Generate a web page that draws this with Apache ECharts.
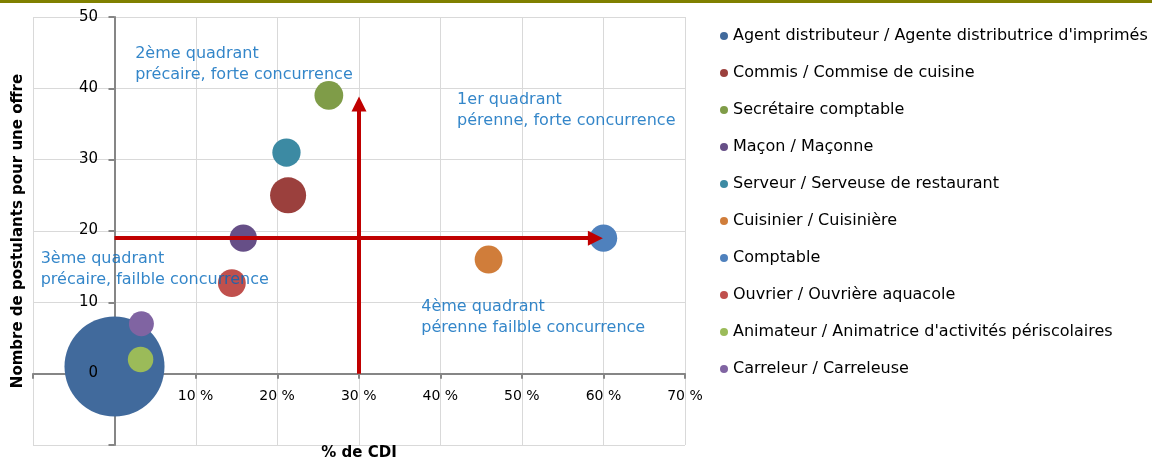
<!DOCTYPE html>
<html>
<head>
<meta charset="utf-8">
<script src="https://cdn.jsdelivr.net/npm/echarts@6/dist/echarts.min.js"></script>
<style>
  html, body { margin: 0; padding: 0; background: #fff; }
  #chart { width: 1152px; height: 457px; }
</style>
</head>
<body>
<div id="chart"></div>
<script>
// métiers (ordre de la légende)
const jobs = [
  "Agent distributeur / Agente distributrice d'imprimés",
  'Commis / Commise de cuisine',
  'Secrétaire comptable',
  'Maçon / Maçonne',
  'Serveur / Serveuse de restaurant',
  'Cuisinier / Cuisinière',
  'Comptable',
  'Ouvrier / Ouvrière aquacole',
  "Animateur / Animatrice d'activités périscolaires",
  'Carreleur / Carreleuse'
]
// % de CDI
const cdi = [0, 21.3, 26.3, 15.8, 21.1, 45.9, 60, 14.4, 3.2, 3.3]
// nombre de postulants pour une offre
const postulants = [1, 25, 39, 19, 31, 16, 19, 12.7, 2, 7]
// taille des bulles (nombre d'offres)
const offres = [400, 52, 33, 30, 32, 31, 30, 31, 26, 25]
const colors = ['#416a9c', '#9b403d', '#7f9c48', '#664f87', '#3c8aa3',
  '#d07d3a', '#4f81bd', '#c0504d', '#9bbb59', '#8064a2']

// flèches (séparation des quadrants)
const arrowH = [[0, 19], [59, 19]]
const arrowV = [[30, 0], [30, 37.8]]

// textes des quadrants
const quadrants = [
  [2.6, 43.3, '2ème quadrant\nprécaire, forte concurrence'],
  [42.1, 36.9, '1er quadrant\npérenne, forte concurrence'],
  [-9, 14.5, '3ème quadrant\nprécaire, failble concurrence'],
  [37.7, 7.8, '4ème quadrant\npérenne failble concurrence']
]

// graduations
const xTicks = { min: -10, max: 70, interval: 10 }
const yTicks = { min: -10, max: 50, interval: 10 }

const font = 'DejaVu Sans'
const dom = document.querySelector('#chart')
const myChart = echarts.init(dom)

const bubbleSeries = jobs.map((name, i) => {
  return {
    name: name,
    type: 'scatter',
    z: 3,
    data: [[cdi[i], postulants[i], offres[i]]],
    symbolSize: v => 5 * Math.sqrt(v[2]),
    itemStyle: { color: colors[i], opacity: 1 }
  }
})

const option = {
  animation: false,
  textStyle: { fontFamily: font },
  // bandeau olive en haut
  graphic: [{
    type: 'rect',
    left: 0,
    top: 0,
    shape: { width: 1152, height: 3 },
    style: { fill: '#808000' }
  }],
  grid: [
    // zone complète (-10..70 / -10..50)
    { left: 33, top: 17, right: 467, bottom: 12, outerBoundsMode: 'none' },
    // quadrant positif, seulement pour les étiquettes des axes
    { left: 114, top: 17, right: 467, bottom: 84, outerBoundsMode: 'none' }
  ],
  legend: {
    orient: 'vertical',
    left: 715,
    top: 23,
    icon: 'circle',
    itemWidth: 8,
    itemHeight: 8,
    itemGap: 21,
    data: jobs,
    textStyle: { fontFamily: font, fontSize: 16, color: '#000', lineHeight: 16 }
  },
  xAxis: [
    {
      type: 'value',
      gridIndex: 0,
      min: xTicks.min,
      max: xTicks.max,
      interval: xTicks.interval,
      name: '% de CDI',
      nameLocation: 'middle',
      nameGap: 1,
      nameTextStyle: { fontFamily: font, fontSize: 15, fontWeight: 'bold', color: '#000' },
      axisLine: { onZero: true, lineStyle: { color: '#868686', width: 2 } },
      axisTick: { show: true, length: 5, lineStyle: { color: '#868686', width: 2 } },
      axisLabel: { show: false },
      splitLine: { lineStyle: { color: '#d9d9d9', width: 1 } }
    },
    {
      type: 'value',
      gridIndex: 1,
      z: 10,
      min: 0,
      max: xTicks.max,
      interval: xTicks.interval,
      axisLine: { show: false, onZero: false },
      axisTick: { show: false },
      splitLine: { show: false },
      axisLabel: {
        margin: 16,
        color: '#000',
        fontSize: 14,
        formatter: v => (v <= 0 ? '' : v + ' %')
      }
    }
  ],
  yAxis: [
    {
      type: 'value',
      gridIndex: 0,
      min: yTicks.min,
      max: yTicks.max,
      interval: yTicks.interval,
      name: 'Nombre de postulants pour une offre',
      nameLocation: 'middle',
      nameGap: 7,
      nameTextStyle: { fontFamily: font, fontSize: 15, fontWeight: 'bold', color: '#000' },
      axisLine: { onZero: true, lineStyle: { color: '#868686', width: 2 } },
      axisTick: { show: true, length: 6, lineStyle: { color: '#868686', width: 2 } },
      axisLabel: { show: false },
      splitLine: { lineStyle: { color: '#d9d9d9', width: 1 } }
    },
    {
      // étiquettes au-dessus des bulles
      type: 'value',
      gridIndex: 1,
      z: 10,
      min: 0,
      max: yTicks.max,
      interval: yTicks.interval,
      axisLine: { show: false, onZero: false },
      axisTick: { show: false },
      splitLine: { show: false },
      axisLabel: {
        margin: 16,
        color: '#000',
        fontSize: 15
      }
    }
  ],
  series: [
    {
      name: 'flèches',
      type: 'scatter',
      z: 1,
      data: [],
      markLine: {
        silent: true,
        symbol: ['none', 'triangle'],
        symbolSize: [15, 15],
        label: { show: false },
        lineStyle: { color: '#c00000', width: 4, type: 'solid' },
        itemStyle: { color: '#c00000' },
        data: [
          [{ coord: arrowH[0] }, { coord: arrowH[1] }],
          [{ coord: arrowV[0] }, { coord: arrowV[1] }]
        ]
      }
    },
    ...bubbleSeries,
    {
      name: 'quadrants',
      type: 'scatter',
      z: 5,
      silent: true,
      symbolSize: 1,
      itemStyle: { color: 'rgba(0,0,0,0)' },
      data: quadrants,
      label: {
        show: true,
        position: [0, 0],
        align: 'left',
        verticalAlign: 'middle',
        color: '#0068bc',
        fontFamily: font,
        fontSize: 16,
        lineHeight: 21,
        formatter: p => p.data[2]
      }
    }
  ]
}

myChart.setOption(option)
</script>
</body>
</html>
